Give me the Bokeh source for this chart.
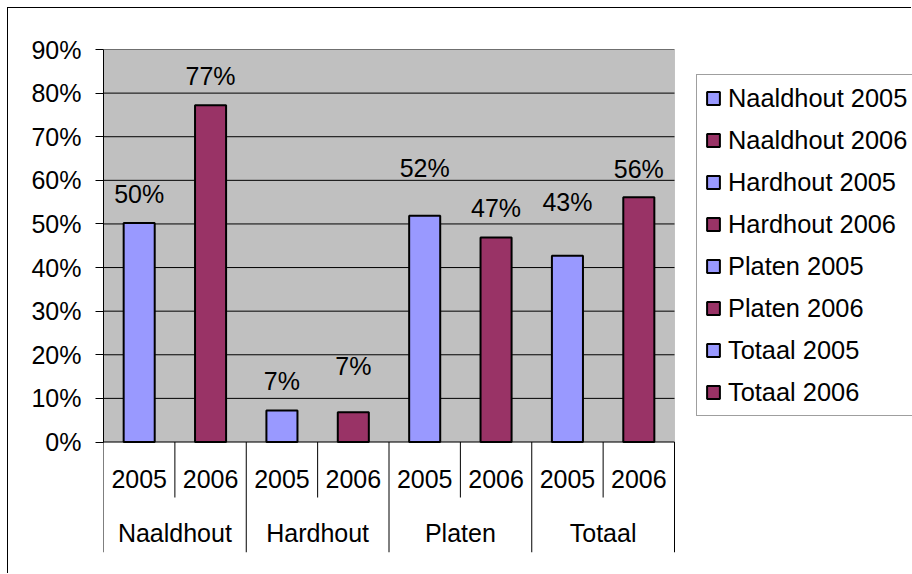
from bokeh.plotting import figure
from bokeh.models import (Range1d, FixedTicker, BoxAnnotation, Legend,
                          LegendItem, ColumnDataSource)
from bokeh.core.properties import value
from bokeh.embed import file_html
from bokeh.resources import INLINE

# ---------------- data ----------------
groups = ["Naaldhout", "Hardhout", "Platen", "Totaal"]
years = ["2005", "2006"]
values = [0.502, 0.772, 0.072, 0.068, 0.519, 0.469, 0.427, 0.561]
bar_labels = ["50%", "77%", "7%", "7%", "52%", "47%", "43%", "56%"]
y_ticks = [0.0, 0.1, 0.2, 0.3, 0.4, 0.5, 0.6, 0.7, 0.8, 0.9]
y_tick_labels = ["0%", "10%", "20%", "30%", "40%", "50%", "60%", "70%", "80%", "90%"]
year_colors = {"2005": "#9999FF", "2006": "#993366"}

# ---------------- styles / geometry ----------------
FONT = "Liberation Sans"
FS = "25px"
W, H = 904, 566
LEFT, RIGHT, TOP, BOTTOM = 95, 0, 41, 22
frame_w = W - LEFT - RIGHT
frame_h = H - TOP - BOTTOM
cat_px = 571 / 8                         # pixel width of one category slot
ppu = 392.5 / 0.9                        # pixels per unit on the value axis
y_low = 0.9 - frame_h / ppu


def dy(pixels):
    return pixels / ppu


label_lift = [29.5, 29, 30, 46.5, 48, 29, 54, 28.5]   # label centre above bar top (px)

factors = [(g, y) for g in groups for y in years]
n = len(factors)
xc = [i + 0.5 for i in range(n)]                       # slot centres on the category scale
gc = [2 * j + 1.0 for j in range(len(groups))]         # group centres
legend_labels = [f"{g} {y}" for g, y in factors]

src = ColumnDataSource(dict(
    x=xc,
    top=values,
    color=[year_colors[y] for _, y in factors],
    label=bar_labels,
    ly=[v + dy(l) for v, l in zip(values, label_lift)],
))

p = figure(width=W, height=H, output_backend="svg", toolbar_location=None,
           x_range=Range1d(0, frame_w / cat_px), y_range=Range1d(y_low, 0.9),
           x_axis_location=None,
           min_border_left=LEFT, min_border_right=RIGHT,
           min_border_top=TOP, min_border_bottom=BOTTOM)
p.outline_line_color = None
p.background_fill_color = "white"
p.border_fill_color = "white"
p.grid.visible = False
p.styles = {"margin-left": "7px", "margin-top": "7px",
            "border-left": "1px solid black", "border-top": "1px solid black"}

# gray plot area
p.add_layout(BoxAnnotation(left=0, right=n, bottom=0, top=0.9, level="image",
                           fill_color="#C0C0C0", fill_alpha=1,
                           line_color="#808080", line_width=1))

# horizontal grid lines (and the category axis line at 0)
p.segment(x0=[0] * len(y_ticks), x1=[n] * len(y_ticks), y0=y_ticks, y1=y_ticks,
          line_color="black", line_width=1, level="underlay")

# y axis
ya = p.yaxis[0]
ya.ticker = FixedTicker(ticks=y_ticks)
ya.major_label_overrides = dict(zip(y_ticks, y_tick_labels))
ya.bounds = (0, 0.9)
ya.axis_line_color = "black"
ya.major_tick_line_color = "black"
ya.major_tick_out = 8
ya.major_tick_in = 0
ya.minor_tick_line_color = None
ya.major_label_standoff = 14
ya.major_label_text_font = FONT
ya.major_label_text_font_size = FS
ya.major_label_text_color = "black"

# bars
bars = p.vbar(x="x", top="top", width=0.435, source=src, fill_color="color",
              line_color="black", line_width=2)

# bar labels
p.text(x="x", y="ly", text="label", source=src, text_align="center",
       text_baseline="middle", text_font=value(FONT), text_font_size=FS,
       text_color="black")

# category separators below axis
bx = [float(i) for i in range(n + 1)]
by = [y_low if i % 2 == 0 else -dy(55.5) for i in range(n + 1)]
p.segment(x0=bx, y0=[0] * len(bx), x1=bx, y1=by, line_color="black", line_width=1)

# category labels
p.text(x=xc, y=[-dy(36.5)] * n, text=[y for _, y in factors],
       text_align="center", text_baseline="middle", text_font=value(FONT),
       text_font_size=FS, text_color="black")
p.text(x=gc, y=[-dy(90.5)] * len(groups), text=groups,
       text_align="center", text_baseline="middle", text_font=value(FONT),
       text_font_size=FS, text_color="black")

# legend
items = [LegendItem(label=legend_labels[i], renderers=[bars], index=i) for i in range(n)]
legend = Legend(items=items, location=(593, 136), orientation="vertical", margin=0,
                label_text_font=FONT, label_text_font_size="25.4px", label_text_color="black",
                glyph_width=16, glyph_height=16, label_standoff=7,
                label_height=30, label_width=230, spacing=12, padding=8,
                border_line_color="#404040", border_line_width=1,
                background_fill_color="white", background_fill_alpha=1)
p.add_layout(legend)

open("out.html", "w").write(file_html(p, INLINE))
